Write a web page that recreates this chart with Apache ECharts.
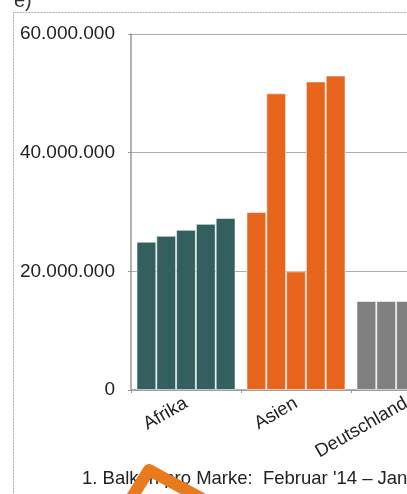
<!DOCTYPE html>
<html><head><meta charset="utf-8">
<script src="https://cdn.jsdelivr.net/npm/echarts@6/dist/echarts.min.js"></script>
<style>html,body{margin:0;padding:0;overflow:hidden;background:#fff}#c{width:480px;height:494px}</style>
</head><body><div id="c"></div>
<script>
const categories = ['Afrika', 'Asien', 'Deutschland'];
const categoryColors = ['#335f5f', '#e8651e', '#808080'];
const bar1 = [25000000, 30000000, 15000000];
const bar2 = [26000000, 50000000, 15000000];
const bar3 = [27000000, 20000000, 15000000];
const bar4 = [28000000, 52000000, 15000000];
const bar5 = [29000000, 53000000, 15000000];
const yTicks = [0, 20000000, 40000000, 60000000];
const panelLabel = 'e)';
const footnote = "1. Balken pro Marke:  Februar '14 – Januar '15";

const fmt = v => String(v).replace(/\B(?=(\d{3})+(?!\d))/g, '.');
const mk = (arr) => ({
  type: 'bar',
  data: arr.map((v, i) => ({ value: v, itemStyle: { color: categoryColors[i] } })),
  barGap: '0%',
  barCategoryGap: '10%',
  itemStyle: { borderColor: 'rgba(255,255,255,0.55)', borderWidth: 1 }
});
const chart = echarts.init(document.getElementById('c'), null, { renderer: 'canvas' });
chart.setOption({
  animation: false,
  textStyle: { fontFamily: 'Liberation Sans, Arial, sans-serif' },
  grid: { left: 131, top: 34, bottom: 104, width: 330, containLabel: false },
  xAxis: {
    type: 'category', data: categories,
    axisLine: { lineStyle: { color: '#999', width: 1.5 } },
    axisTick: { show: true, length: 3, lineStyle: { color: '#999' } },
    axisLabel: { rotate: 30, fontSize: 18.5, color: '#222', margin: 12, interval: 0 }
  },
  yAxis: {
    type: 'value', min: yTicks[0], max: yTicks[yTicks.length - 1], interval: yTicks[1] - yTicks[0],
    axisLine: { show: true, lineStyle: { color: '#999', width: 1.5 } },
    axisTick: { show: true, length: 3, lineStyle: { color: '#999' } },
    splitLine: { lineStyle: { color: '#aaa', width: 1.2 } },
    axisLabel: { fontSize: 19, color: '#222', margin: 16, formatter: fmt }
  },
  series: [mk(bar1), mk(bar2), mk(bar3), mk(bar4), mk(bar5)],
  graphic: [
    { type: 'rect', shape: { x: 13.5, y: 12.5, width: 600, height: 600 },
      style: { fill: 'none', stroke: '#aaa', lineWidth: 1, lineDash: [2, 1] }, z: 0 },
    { type: 'text', x: 14, y: -9, style: { text: panelLabel, fontSize: 20, fill: '#333', fontFamily: 'Liberation Sans, Arial, sans-serif' } },
    { type: 'text', x: 82, y: 469, style: { text: footnote, fontSize: 18.5, fill: '#222', fontFamily: 'Liberation Sans, Arial, sans-serif' } },
    { type: 'polyline', shape: { points: [[129, 502], [149, 470], [210, 503]] },
      style: { stroke: '#ea7a1e', lineWidth: 12, fill: 'none', lineJoin: 'round', lineCap: 'butt' }, z: 100 }
  ]
});
</script></body></html>
